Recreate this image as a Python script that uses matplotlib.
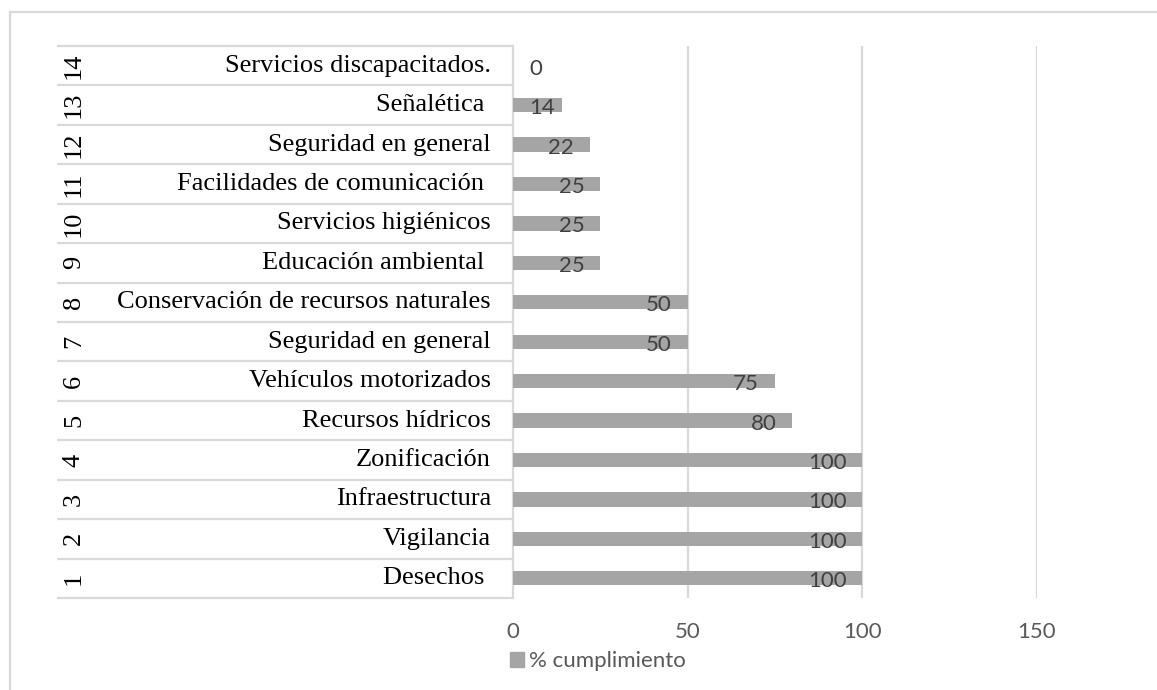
import numpy as np
import matplotlib
matplotlib.use("Agg")
import matplotlib.pyplot as plt
from matplotlib.lines import Line2D
from matplotlib.patches import Patch

# datos (de abajo hacia arriba)
numeros = [1, 2, 3, 4, 5, 6, 7, 8, 9, 10, 11, 12, 13, 14]
categorias = ["Desechos ", "Vigilancia", "Infraestructura", "Zonificación",
              "Recursos hídricos", "Vehículos motorizados", "Seguridad en general",
              "Conservación de recursos naturales", "Educación ambiental ",
              "Servicios higiénicos", "Facilidades de comunicación ",
              "Seguridad en general", "Señalética ", "Servicios discapacitados."]
cumplimiento = [100, 100, 100, 100, 80, 75, 50, 50, 25, 25, 25, 22, 14, 0]
ticks_x = [0, 50, 100, 150]

W, H = 1157, 690
gris_barra = "#A5A5A5"
gris_linea = "#D9D9D9"
fuente_sans = "Lato"
fuente_serif = "Liberation Serif"

fig = plt.figure(figsize=(W / 100, H / 100), dpi=100)

# area del grafico (en pixeles de la figura)
x0, x1, ytop, ybot = 513, 1037, 46, 598
ax = fig.add_axes([x0 / W, 1 - ybot / H, (x1 - x0) / W, (ybot - ytop) / H])

pos = np.array(numeros)
ax.barh(pos, cumplimiento, height=0.36, color=gris_barra, zorder=3)
ax.set_xlim(0, 150)
ax.set_ylim(0.5, 14.5)

# rejilla vertical
for t in ticks_x[1:]:
    ax.axvline(t, color=gris_linea, lw=1.6, zorder=1)

for s in ["top", "right", "bottom"]:
    ax.spines[s].set_visible(False)
ax.spines["left"].set_color(gris_linea)
ax.spines["left"].set_linewidth(1.6)

ax.set_yticks([])
ax.set_xticks(ticks_x)
ax.set_xticklabels([str(t) for t in ticks_x], fontfamily=fuente_sans,
                   fontsize=16, color="#595959")
ax.tick_params(axis="x", length=0, pad=17)

# etiquetas de datos (extremo interior)
escala = (x1 - x0) / 150.0
for y, v in zip(pos, cumplimiento):
    if v * escala < 60:
        ax.annotate(str(v), xy=(0, y), xytext=(16, -3), textcoords="offset pixels",
                    ha="left", va="center", fontfamily=fuente_sans, fontsize=16,
                    color="#404040", zorder=4)
    else:
        ax.annotate(str(v), xy=(v, y), xytext=(-16, -3), textcoords="offset pixels",
                    ha="right", va="center", fontfamily=fuente_sans, fontsize=16,
                    color="#404040", zorder=4)

# tabla de categorias a la izquierda
tr = ax.get_yaxis_transform()
izq = (57 - x0) / (x1 - x0)
ax.hlines(np.arange(0.5, 15, 1.0), izq, 0, transform=tr, colors=gris_linea,
          lw=1.6, clip_on=False)
for y, n, c in zip(pos, numeros, categorias):
    ax.annotate(c, xy=(0, y), xycoords=tr, xytext=(-22, 0),
                textcoords="offset pixels", ha="right", va="center",
                fontfamily=fuente_serif, fontsize=19, color="black",
                annotation_clip=False)
    ax.annotate(str(n), xy=((74 - x0) / (x1 - x0), y), xycoords=tr,
                ha="center", va="center", rotation=90,
                fontfamily=fuente_serif, fontsize=19, color="black",
                annotation_clip=False)

# leyenda
fig.legend([Patch(color=gris_barra)], ["% cumplimiento"], loc="center left",
           bbox_to_anchor=(490 / W, 1 - 661 / H), frameon=False,
           handlelength=0.65, handleheight=0.65, handletextpad=0.2,
           prop={"family": fuente_sans, "size": 16}, labelcolor="#595959")

# borde exterior
fig.add_artist(Line2D([10 / W, 10 / W], [0, 1 - 12 / H], color=gris_linea, lw=1.6))
fig.add_artist(Line2D([10 / W, 1], [1 - 12 / H, 1 - 12 / H], color=gris_linea, lw=1.6))

fig.savefig("out.png", dpi=100)
